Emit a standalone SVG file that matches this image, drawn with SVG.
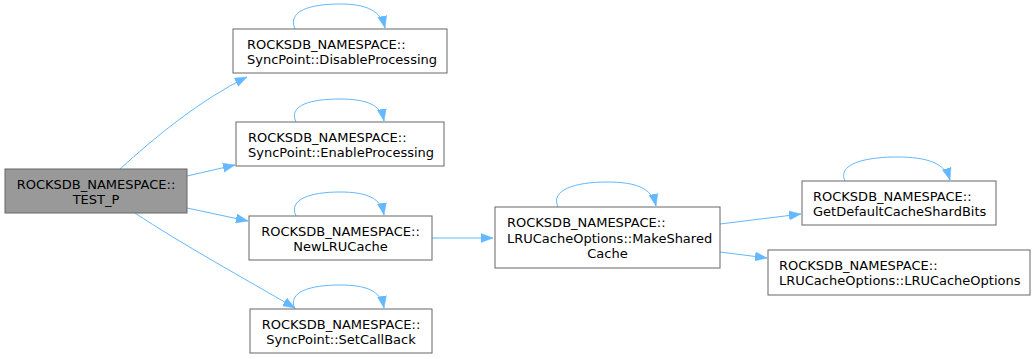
<svg xmlns="http://www.w3.org/2000/svg" width="1035" height="359" viewBox="0 0 1035 359">
  <style>
    .node rect { fill: #ffffff; stroke: #666666; stroke-width: 1; }
    .node.root rect { fill: #999999; }
    .node text { font-family: "DejaVu Sans", "Liberation Sans", sans-serif; font-size: 13px; fill: #000000; }
    .edges path { fill: none; stroke: #63b8ff; stroke-width: 1; marker-end: url(#arrow); }
  </style>
  <defs>
    <marker id="arrow" markerUnits="userSpaceOnUse" markerWidth="13" markerHeight="10" refX="12" refY="5" orient="auto">
      <path d="M0,0.5 L12,5 L0,9.5 z" fill="#63b8ff" stroke="#63b8ff" stroke-width="0.5"/>
    </marker>
  </defs>

  <rect width="1035" height="359" fill="#ffffff"/>

  <g class="edges" id="edges">
    <!-- calls from TEST_P -->
    <path d="M120,169 C155,137 200,100 247,77"/>
    <path d="M187,176 L235,165"/>
    <path d="M187,208 L248,221"/>
    <path d="M135,213 C180,243 245,279 295,308"/>
    <!-- NewLRUCache -> MakeSharedCache -->
    <path d="M432,238 L493,238"/>
    <!-- MakeSharedCache -> callees -->
    <path d="M720,224 L801,214"/>
    <path d="M720,252 L767,258"/>
    <!-- recursive calls -->
    <path d="M295,29 C287,11 310,4 340,4 C367,4 381,11 385,28"/>
    <path d="M296,122 C288,105 311,99 340,99 C367,99 381,105 384,121"/>
    <path d="M296,216 C288,199 311,192 340,192 C367,192 381,198 384,215"/>
    <path d="M558,207 C550,190 575,182 607,182 C636,182 652,188 656,206"/>
    <path d="M295,309 C287,292 310,285 340,285 C367,285 381,291 384,308"/>
    <path d="M845,181 C837,164 865,157 897,157 C927,157 945,163 950,180"/>
  </g>

  <g class="node root" id="node-test-p">
    <rect x="5" y="169" width="182" height="44"/>
    <text x="96" y="189" text-anchor="middle">ROCKSDB_NAMESPACE::</text>
    <text x="96" y="204" text-anchor="middle">TEST_P</text>
  </g>

  <g class="node" id="node-disable-processing">
    <rect x="233" y="29" width="214" height="44"/>
    <text x="247" y="49">ROCKSDB_NAMESPACE::</text>
    <text x="247" y="64">SyncPoint::DisableProcessing</text>
  </g>

  <g class="node" id="node-enable-processing">
    <rect x="236" y="122" width="208" height="44"/>
    <text x="248" y="142">ROCKSDB_NAMESPACE::</text>
    <text x="248" y="157">SyncPoint::EnableProcessing</text>
  </g>

  <g class="node" id="node-new-lru-cache">
    <rect x="249" y="216" width="183" height="44"/>
    <text x="340.5" y="236" text-anchor="middle">ROCKSDB_NAMESPACE::</text>
    <text x="340.5" y="251" text-anchor="middle">NewLRUCache</text>
  </g>

  <g class="node" id="node-set-callback">
    <rect x="250" y="309" width="182" height="44"/>
    <text x="341" y="329" text-anchor="middle">ROCKSDB_NAMESPACE::</text>
    <text x="341" y="344" text-anchor="middle">SyncPoint::SetCallBack</text>
  </g>

  <g class="node" id="node-make-shared-cache">
    <rect x="495" y="207" width="225" height="61"/>
    <text x="507" y="227">ROCKSDB_NAMESPACE::</text>
    <text x="507" y="242.5">LRUCacheOptions::MakeShared</text>
    <text x="607.5" y="258" text-anchor="middle">Cache</text>
  </g>

  <g class="node" id="node-default-shard-bits">
    <rect x="802" y="181" width="194" height="44"/>
    <text x="813" y="201">ROCKSDB_NAMESPACE::</text>
    <text x="813" y="216">GetDefaultCacheShardBits</text>
  </g>

  <g class="node" id="node-lru-cache-options">
    <rect x="768" y="250" width="262" height="45"/>
    <text x="779" y="270">ROCKSDB_NAMESPACE::</text>
    <text x="779" y="285">LRUCacheOptions::LRUCacheOptions</text>
  </g>
</svg>
